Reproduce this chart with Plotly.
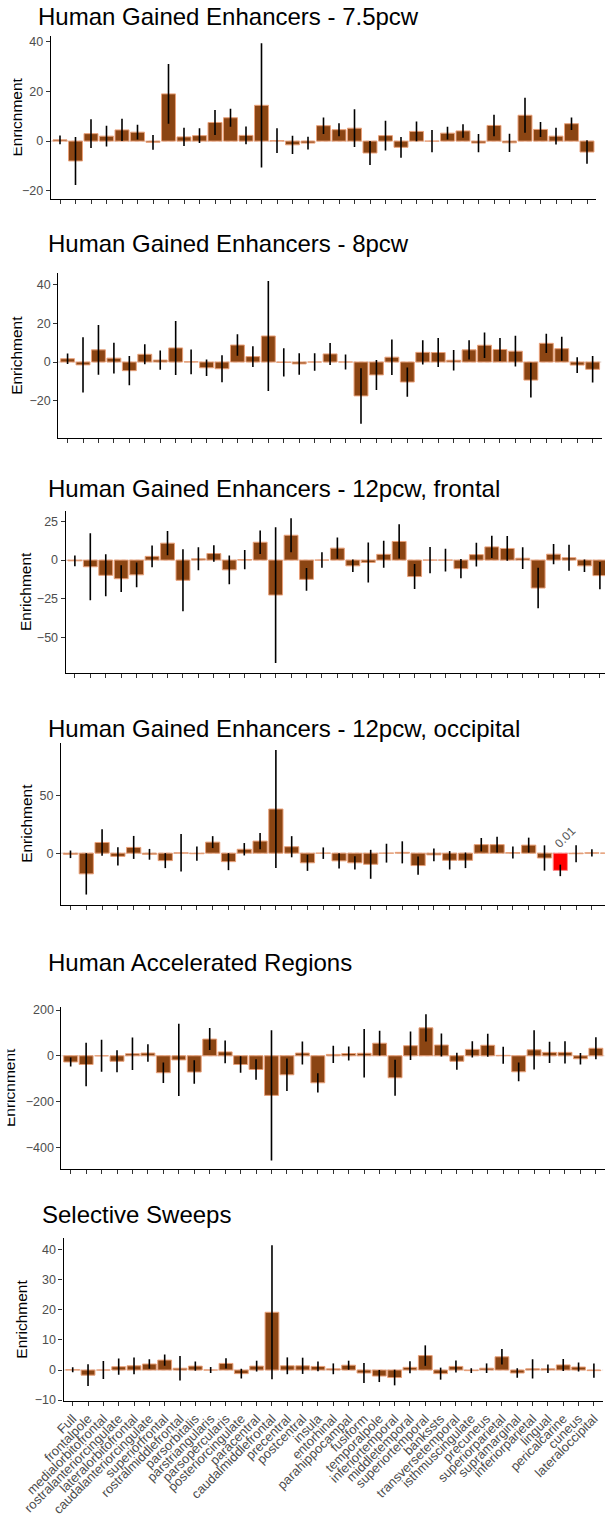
import plotly.graph_objects as go

# ---------------- data ----------------
regions = ["Full", "frontalpole", "medialorbitofrontal", "rostralanteriorcingulate",
           "lateralorbitofrontal", "caudalanteriorcingulate", "superiorfrontal",
           "rostralmiddlefrontal", "parsorbitalis", "parstriangularis", "parsopercularis",
           "posteriorcingulate", "paracentral", "caudalmiddlefrontal", "precentral",
           "postcentral", "insula", "entorhinal", "parahippocampal", "fusiform",
           "temporalpole", "inferiortemporal", "middletemporal", "superiortemporal",
           "bankssts", "transversetemporal", "isthmuscingulate", "precuneus",
           "superiorparietal", "supramarginal", "inferiorparietal", "lingual",
           "pericalcarine", "cuneus", "lateraloccipital"]

titles = ["Human Gained Enhancers - 7.5pcw", "Human Gained Enhancers - 8pcw",
          "Human Gained Enhancers - 12pcw, frontal", "Human Gained Enhancers - 12pcw, occipital",
          "Human Accelerated Regions", "Selective Sweeps"]

hge75_val = [0.5, -8, 3, 2, 4.5, 3.6, -0.5, 19, 1.7, 2.2, 7.5, 9.4, 2.3, 14.4, 0.2, -1.5, -0.8,
             6.2, 4.6, 5.2, -4.8, 2.2, -2.5, 3.9, 0, 3.2, 4.1, -0.8, 6.3, -0.7, 10.4, 4.7, 2, 7, -4.4]
hge75_err = [1.8, 9.7, 5.8, 4.2, 4.5, 3, 3, 12, 3.7, 3, 5, 3.6, 3.6, 25, 5, 3.7, 2.6,
             3.3, 2.6, 7.6, 4.8, 6, 4.2, 4, 4.5, 2.6, 2.7, 3.7, 4.3, 3.7, 7, 3, 3.4, 2.5, 4.7]

hge8_val = [1.7, -1.5, 6.3, 2, -4.5, 4, 1, 7.3, 0.1, -3, -3.5, 8.8, 2.8, 13.5, -0.2, -1, 0,
            4.2, 0, -17.6, -6.7, 2.5, -10.4, 5, 4.9, 0.9, 6.3, 8.7, 6.5, 5.6, -9.4, 9.7, 6.9, -1.6, -3.8]
hge8_err = [2.7, 14.4, 12.9, 8, 7.6, 5.2, 5, 14, 6.4, 4.3, 7, 5.6, 5.4, 28.6, 7.3, 5.6, 4.5,
            5.7, 3.9, 14.4, 7.8, 9.2, 7.6, 6.3, 7.5, 5.3, 5, 6.6, 6, 8, 9, 5, 6.2, 4.1, 6.9]

hge12f_val = [-0.5, -4.3, -9.8, -12, -9.5, 2.4, 10.9, -13, 0.8, 4.2, -6.3, 0.3, 11.5, -22.5, 16,
              -12.4, 0, 7.7, -3.7, -1.5, 3.7, 12, -10.6, 0, 0, -5.5, 3.5, 8.5, 7.5, 1.2, -18,
              3.8, 1.5, -3.7, -10]
hge12f_err = [3.5, 21.5, 13.5, 8.6, 8, 7, 7.8, 20, 7.4, 5.3, 9.3, 6.2, 7.6, 43.7, 11,
              7.3, 5, 6.9, 4, 12.9, 8.7, 11, 8, 8.5, 7.3, 6.2, 7.6, 7.2, 8, 7, 13,
              6.5, 8.4, 4, 8.8]

hge12o_val = [-1, -18, 9.3, -2.8, 5, -1, -6.5, 0.3, -0.5, 9.6, -7.4, 3.4, 10.5, 38.4, 5.6,
              -8.4, 0, -6.7, -8.4, -9.7, 0, 0.7, -10.8, -1.5, -6.2, -6.2, 7.4, 7.4, 0.5, 7,
              -4.2, -15, -0.5, 0.3, 0]
hge12o_err = [3.3, 18, 11.5, 8, 10, 4.7, 6.5, 16.3, 6.2, 5.2, 7.4, 5.4, 7, 51.4, 9.2,
              7, 5, 6.6, 5.8, 12.6, 8.2, 9.6, 8, 5.5, 8, 6.8, 5.8, 6.8, 5.2, 6.5,
              11, 5, 7.3, 3.2, 3]
hge12o_pval = {"lingual": "0.01"}

har_val = [-27, -38, 0, -24, 9, 12, -74, -18, -71, 73, 17, -38, -60, -173, -83, 12, -118,
           6, 10, 11, 55, -96, 44, 122, 47, -24, 28, 46, 2, -70, 26, 15, 15, -13, 33]
har_err = [20, 95, 70, 48, 71, 38, 45, 158, 51, 48, 50, 36, 45, 285, 71, 50, 42,
           38, 31, 106, 54, 79, 62, 60, 50, 37, 35, 50, 37, 41, 86, 46, 49, 25, 48]

sweep_val = [0.1, -1.7, 0, 1.1, 1.4, 2, 3.3, 0.6, 1.3, 0, 2.2, -1.2, 1.3, 19.2, 1.4, 1.4, 1.2,
             0.4, 1.6, -1, -2, -2.5, 0.9, 4.8, -1.2, 1.2, -0.2, 0.6, 4.4, -1, 0.4, 0.4, 1.7, 1, -0.2]
sweep_err = [0.8, 3.6, 3, 2.7, 2.8, 1.6, 1.9, 4.1, 1.5, 1, 1.7, 1.6, 1.8, 22.3, 2.8, 2.7, 1.6,
             1.8, 1.5, 3.3, 2, 2.6, 2, 3.4, 2, 2, 0.8, 1.6, 2.6, 1.6, 3.2, 1.4, 2, 1.5, 2.4]

y_ticks = [[-20, 0, 20, 40], [-20, 0, 20, 40], [-50, -25, 0, 25], [0, 50],
           [-400, -200, 0, 200], [-10, 0, 10, 20, 30, 40]]

# ---------------- layout (pixel geometry) ----------------
W, H = 605, 1517
FONT = "Liberation Sans, Arial, Helvetica, sans-serif"
BROWN, BROWN_EDGE = "#8B4513", "#E9A17A"
RED, RED_EDGE = "#FF0000", "#FF8C8C"

series = [
    (hge75_val, hge75_err, {}),
    (hge8_val, hge8_err, {}),
    (hge12f_val, hge12f_err, {}),
    (hge12o_val, hge12o_err, hge12o_pval),
    (har_val, har_err, {}),
    (sweep_val, sweep_err, {}),
]
geo = [
    dict(x0=50.7, x1=596.3, xr=[-0.6, 34.6], yt=36, yb=199, yr=[-23.3, 42.3], tx=36, ty=16, ex=16, mask=12),
    dict(x0=58.3, x1=601.9, xr=[-0.6, 34.6], yt=273, yb=437.7, yr=[-39.3, 46.2], tx=46, ty=243, ex=16.5, mask=0),
    dict(x0=65.6, x1=605, xr=[-0.6, 34.33], yt=510.7, yb=673.3, yr=[-72.9, 31.8], tx=46, ty=488, ex=25, mask=0),
    dict(x0=61.0, x1=605, xr=[-0.6, 33.83], yt=742.7, yb=905, yr=[-45.1, 96.1], tx=46, ty=728, ex=27, mask=0),
    dict(x0=61.4, x1=605, xr=[-0.6, 34.59], yt=1006.7, yb=1169.3, yr=[-496, 214.5], tx=46, ty=962, ex=9, mask=6),
    dict(x0=63.5, x1=603.1, xr=[-0.6, 34.6], yt=1238.3, yb=1401, yr=[-10.3, 43.8], tx=40, ty=1214, ex=22, mask=0),
]

fig = go.Figure()
annotations = []
shapes = []
layout_axes = {}

for i, ((vals, errs, pvals), g) in enumerate(zip(series, geo)):
    n = i + 1
    xa = "x" if n == 1 else f"x{n}"
    ya = "y" if n == 1 else f"y{n}"
    colors = [RED if r in pvals else BROWN for r in regions]
    edges = [RED_EDGE if r in pvals else BROWN_EDGE for r in regions]
    fig.add_trace(go.Bar(
        x=regions, y=vals, xaxis=xa, yaxis=ya, width=0.9,
        marker=dict(color=colors, line=dict(color=edges, width=1)),
        error_y=dict(type="data", array=errs, visible=True, color="black",
                     thickness=1.6, width=0),
        showlegend=False, hoverinfo="x+y",
    ))
    last = (n == 6)
    layout_axes["xaxis" if n == 1 else f"xaxis{n}"] = dict(
        domain=[g["x0"] / W, g["x1"] / W], anchor=ya, type="category",
        categoryorder="array", categoryarray=regions, range=g["xr"],
        tickmode="array", tickvals=regions, ticktext=regions, automargin=False,
        showline=True, linecolor="black", linewidth=1.1, ticks="outside",
        ticklen=4, tickwidth=1, tickcolor="#333333", showgrid=False, zeroline=False,
        showticklabels=last, tickangle=-45 if last else 0,
        tickfont=dict(family=FONT, size=13, color="#4D4D4D"),
        fixedrange=True,
    )
    layout_axes["yaxis" if n == 1 else f"yaxis{n}"] = dict(
        domain=[1 - g["yb"] / H, 1 - g["yt"] / H], anchor=xa, range=g["yr"],
        tickvals=y_ticks[i], automargin=False,
        showline=True, linecolor="black", linewidth=1.1,
        ticks="outside", ticklen=4, tickwidth=1, tickcolor="#333333",
        showgrid=False, zeroline=False,
        tickfont=dict(family=FONT, size=12.5, color="#4D4D4D"), fixedrange=True,
    )
    shapes.append(dict(type="line", xref=f"{xa} domain", yref=ya, x0=0, x1=1, y0=0, y1=0,
                       line=dict(color="#D9C9C3", width=1, dash="4px,3px"), layer="below"))
    annotations.append(dict(text=titles[i], xref="paper", yref="paper", x=g["tx"] / W,
                            y=1 - g["ty"] / H, xanchor="left", yanchor="middle",
                            showarrow=False, font=dict(family=FONT, size=24, color="black")))
    annotations.append(dict(text="Enrichment", xref="paper", yref="paper", x=g["ex"] / W,
                            y=1 - (g["yt"] + g["yb"]) / 2 / H, xanchor="center",
                            yanchor="middle", textangle=-90, showarrow=False,
                            font=dict(family=FONT, size=15.5, color="black")))
    if g["mask"] > 0:
        annotations.append(dict(text=" ", xref="paper", yref="paper", x=0,
                                y=1 - (g["yt"] + g["yb"]) / 2 / H, xanchor="left",
                                yanchor="middle", width=g["mask"], height=120,
                                bgcolor="white", borderpad=0, showarrow=False))
    for r, lab in pvals.items():
        annotations.append(dict(text=lab, xref=xa, yref=ya, x=r, y=14.4, xshift=5,
                                textangle=-45, showarrow=False,
                                font=dict(family=FONT, size=12, color="#555555")))

fig.update_layout(
    width=W, height=H, autosize=False,
    margin=dict(l=0, r=0, t=0, b=0, pad=0, autoexpand=False),
    paper_bgcolor="white", plot_bgcolor="white",
    bargap=0.1, annotations=annotations, shapes=shapes,
    font=dict(family=FONT),
    **layout_axes,
)

fig.write_html("out.html", config={"displayModeBar": False},
               post_script="document.body.style.margin='0';document.body.style.overflow='hidden';")
